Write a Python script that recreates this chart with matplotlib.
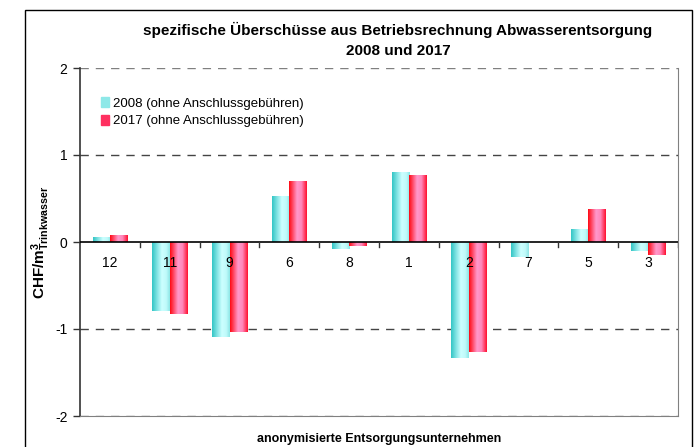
"""
Spezifische Überschüsse aus Betriebsrechnung Abwasserentsorgung, 2008 vs 2017.
"""

import matplotlib
matplotlib.use("Agg")
import matplotlib.pyplot as plt
import matplotlib.patches as mpatches
from matplotlib.colors import LinearSegmentedColormap
import numpy as np

plt.rcParams["font.family"] = ["Liberation Sans", "DejaVu Sans"]
plt.rcParams["mathtext.fontset"] = "custom"
plt.rcParams["mathtext.rm"] = "Liberation Sans"
plt.rcParams["mathtext.bf"] = "Liberation Sans:bold"

# ---------------------------------------------------------------------------
# Data
# ---------------------------------------------------------------------------

companies = ["12", "11", "9", "6", "8", "1", "2", "7", "5", "3"]
values_2008 = [0.06, -0.79, -1.09, 0.53, -0.08, 0.81, -1.33, -0.17, 0.15, -0.10]
values_2017 = [0.08, -0.83, -1.04, 0.70, -0.05, 0.77, -1.26, 0.0, 0.38, -0.15]

label_2008 = "2008 (ohne Anschlussgebühren)"
label_2017 = "2017 (ohne Anschlussgebühren)"

CMAP_2008 = LinearSegmentedColormap.from_list(
    "cyan_bar", [(0, "#33C6C6"), (0.55, "#CCFFFF"), (0.8, "#C0FAFA"), (1, "#8EE6E6")])
CMAP_2017 = LinearSegmentedColormap.from_list(
    "red_bar", [(0, "#FF0A14"), (0.45, "#FF99CC"), (0.7, "#FF88BB"), (1, "#FF1030")])

# ---------------------------------------------------------------------------
# Figure
# ---------------------------------------------------------------------------

fig = plt.figure(figsize=(6.97, 4.47), dpi=100)
ax = fig.add_axes([80 / 697, 31 / 447, 598 / 697, 348 / 447])

# outer chart frame
fig.patches.append(mpatches.Rectangle(
    (25 / 697, -0.2), 667 / 697, 1.2 - 10 / 447, transform=fig.transFigure,
    fill=False, edgecolor="black", linewidth=1.0))

x = np.arange(len(companies))
bw = 0.29

grad = np.linspace(0, 1, 64).reshape(1, -1)


def gradient_bars(bars, cmap):
    for bar in bars:
        bx, by = bar.get_x(), bar.get_y()
        w, h = bar.get_width(), bar.get_height()
        if h == 0:
            continue
        bar.set_facecolor("none")
        bar.set_edgecolor("none")
        im = ax.imshow(grad, cmap=cmap, aspect="auto",
                       extent=[bx, bx + w, min(by, by + h), max(by, by + h)],
                       zorder=2)
        im.set_clip_path(bar)


b1 = ax.bar(x - bw / 2, values_2008, bw, zorder=2)
b2 = ax.bar(x + bw / 2, values_2017, bw, zorder=2)
gradient_bars(b1, CMAP_2008)
gradient_bars(b2, CMAP_2017)

ax.set_xlim(-0.5, len(companies) - 0.5)
ax.set_ylim(-2, 2)

# dashed gridlines
for yv in [-1, 1, 2, -2]:
    ax.axhline(yv, color="#444444" if abs(yv) == 1 else "#808080",
               linestyle=(0, (6, 5)), linewidth=1.0, zorder=1)
ax.axhline(0, color="black", linewidth=1.2, zorder=3)

# spines
ax.spines["left"].set_color("#333333")
ax.spines["left"].set_linewidth(1.2)
ax.spines["top"].set_visible(False)
ax.spines["right"].set_color("#808080")
ax.spines["bottom"].set_color("#808080")

# y ticks
ax.set_yticks([-2, -1, 0, 1, 2])
ax.set_yticklabels(["-2", "-1", "0", "1", "2"], fontsize=10)
ax.tick_params(axis="y", direction="out", length=5, width=1, color="#333333", pad=4)

# x ticks: marks at group boundaries on the zero line, labels at centers
ax.set_xticks([])
for xb in np.arange(0.5, len(companies) - 0.4, 1):
    ax.plot([xb, xb], [0, -0.06], color="#333333", linewidth=1.0, zorder=3)
for xi, lab in zip(x, companies):
    ax.text(xi, -0.16, lab, ha="center", va="top", fontsize=10, zorder=4)

ax.set_ylabel(r"$\mathbf{CHF/m^3_{Trinkwasser}}$", fontsize=11, labelpad=2)
ax.set_xlabel("anonymisierte Entsorgungsunternehmen", fontsize=9,
              fontweight="bold", labelpad=12)

fig.text(398 / 697, 1 - 40 / 447,
         "spezifische Überschüsse aus Betriebsrechnung Abwasserentsorgung\n2008 und 2017",
         ha="center", va="center", fontsize=11, fontweight="bold", linespacing=1.5)

h1 = mpatches.Patch(color="#8EE8E8", label=label_2008)
h2 = mpatches.Patch(color="#FF3060", label=label_2017)
ax.legend(handles=[h1, h2], loc="upper left", bbox_to_anchor=(0.015, 0.95),
          frameon=False, fontsize=9.5, handlelength=0.6, handleheight=0.8,
          handletextpad=0.3, labelspacing=0.35)

fig.savefig("out.png", dpi=100)
